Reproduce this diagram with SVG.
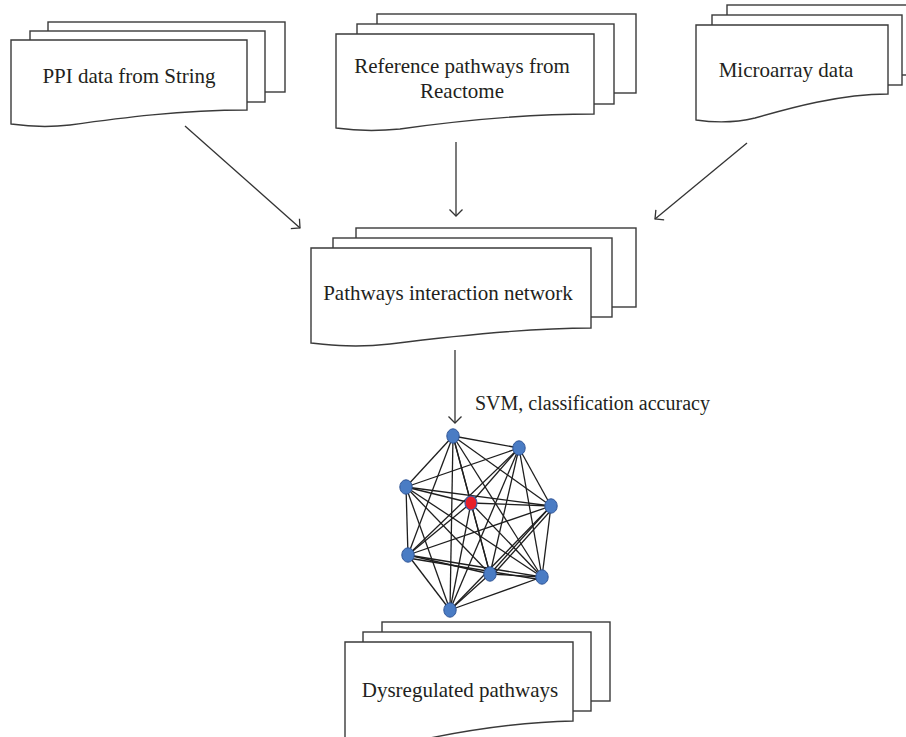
<svg xmlns="http://www.w3.org/2000/svg" width="906" height="737" viewBox="0 0 906 737">
<defs>
<style>
.sheet{fill:#fff;stroke:#3a3a3a;stroke-width:1.4}
.lbl{font-family:"Liberation Serif","DejaVu Serif",serif;font-size:21px;fill:#231f20;text-anchor:middle}
.conn{stroke:#333;stroke-width:1.3;fill:none}
.edge{stroke:#1e1e1e;stroke-width:1.3}
.nd{fill:#4a7cc4;stroke:#2f5597;stroke-width:1}
.red{fill:#e8202a;stroke:#3b5fa8;stroke-width:1.2}
</style>
<marker id="arr" markerUnits="userSpaceOnUse" markerWidth="12" markerHeight="16" refX="8" refY="8" orient="auto">
<path d="M1.5,1.5 L8,8 L1.5,14.5" fill="none" stroke="#333" stroke-width="1.3"/>
</marker>
</defs>

<g id="ppi">
<rect class="sheet" x="48" y="22" width="237" height="70"/>
<rect class="sheet" x="30" y="31" width="235" height="71"/>
<path class="sheet" d="M11,40 H247 V110 C180,110 120,118 70,125 C45,128 25,126 11,124 Z"/>
<text class="lbl" x="129" y="83">PPI data from String</text>
</g>

<g id="reactome">
<rect class="sheet" x="377" y="14" width="259" height="79"/>
<rect class="sheet" x="357" y="24" width="257" height="80"/>
<path class="sheet" d="M336,34 H594 V114 C520,114 450,122 400,129 C370,132 350,130 336,128 Z"/>
<text class="lbl" x="462" y="73">Reference pathways from</text>
<text class="lbl" x="462" y="98">Reactome</text>
</g>

<g id="microarray">
<rect class="sheet" x="727" y="5" width="200" height="70"/>
<rect class="sheet" x="712" y="15" width="190" height="70"/>
<path class="sheet" d="M696,25 H888 V94 C840,94 790,108 755,118 C730,124 710,122 696,120 Z"/>
<text class="lbl" x="786" y="77">Microarray data</text>
</g>

<g id="network">
<rect class="sheet" x="356" y="228" width="280" height="79"/>
<rect class="sheet" x="333" y="238" width="279" height="79"/>
<path class="sheet" d="M311,248 H591 V328 C520,328 445,337 390,344 C355,348 330,345 311,343 Z"/>
<text class="lbl" x="448" y="300">Pathways interaction network</text>
</g>

<g id="dysregulated">
<rect class="sheet" x="382" y="622" width="228" height="79"/>
<rect class="sheet" x="363" y="632" width="228" height="79"/>
<path class="sheet" d="M345,642 H573 V721 C520,722 470,730 430,738 C400,743 365,742 345,740 Z"/>
<text class="lbl" x="460" y="697">Dysregulated pathways</text>
</g>

<g id="connectors">
<line class="conn" x1="185" y1="126" x2="300" y2="228" marker-end="url(#arr)"/>
<line class="conn" x1="456" y1="142" x2="456" y2="216" marker-end="url(#arr)"/>
<line class="conn" x1="747" y1="143" x2="655" y2="219" marker-end="url(#arr)"/>
<line class="conn" x1="455" y1="350" x2="455" y2="423" marker-end="url(#arr)"/>
<text x="475" y="410" style="font-family:'Liberation Serif','DejaVu Serif',serif;font-size:20px;fill:#231f20">SVM, classification accuracy</text>
</g>

<g id="graph">
<g class="edge">
<line x1="453" y1="436" x2="519" y2="448"/>
<line x1="453" y1="436" x2="406" y2="487"/>
<line x1="453" y1="436" x2="471" y2="503"/>
<line x1="453" y1="436" x2="551" y2="506"/>
<line x1="453" y1="436" x2="408" y2="555"/>
<line x1="453" y1="436" x2="490" y2="574"/>
<line x1="453" y1="436" x2="542" y2="577"/>
<line x1="453" y1="436" x2="450" y2="610"/>
<line x1="519" y1="448" x2="406" y2="487"/>
<line x1="519" y1="448" x2="471" y2="503"/>
<line x1="519" y1="448" x2="551" y2="506"/>
<line x1="519" y1="448" x2="408" y2="555"/>
<line x1="519" y1="448" x2="490" y2="574"/>
<line x1="519" y1="448" x2="542" y2="577"/>
<line x1="519" y1="448" x2="450" y2="610"/>
<line x1="406" y1="487" x2="471" y2="503"/>
<line x1="406" y1="487" x2="551" y2="506"/>
<line x1="406" y1="487" x2="408" y2="555"/>
<line x1="406" y1="487" x2="490" y2="574"/>
<line x1="406" y1="487" x2="542" y2="577"/>
<line x1="406" y1="487" x2="450" y2="610"/>
<line x1="471" y1="503" x2="551" y2="506"/>
<line x1="471" y1="503" x2="408" y2="555"/>
<line x1="471" y1="503" x2="490" y2="574"/>
<line x1="471" y1="503" x2="542" y2="577"/>
<line x1="471" y1="503" x2="450" y2="610"/>
<line x1="551" y1="506" x2="408" y2="555"/>
<line x1="551" y1="506" x2="490" y2="574"/>
<line x1="553" y1="508" x2="492" y2="576"/>
<line x1="551" y1="506" x2="542" y2="577"/>
<line x1="551" y1="506" x2="450" y2="610"/>
<line x1="408" y1="555" x2="490" y2="574"/>
<line x1="408" y1="555" x2="542" y2="577"/>
<line x1="408" y1="558" x2="542" y2="580"/>
<line x1="408" y1="555" x2="450" y2="610"/>
<line x1="490" y1="574" x2="542" y2="577"/>
<line x1="490" y1="574" x2="450" y2="610"/>
<line x1="542" y1="577" x2="450" y2="610"/>
</g>
<g id="node1"><ellipse class="nd" cx="453" cy="436" rx="6.2" ry="7.2"/></g>
<g id="node2"><ellipse class="nd" cx="519" cy="448" rx="6.2" ry="7.2"/></g>
<g id="node3"><ellipse class="nd" cx="406" cy="487" rx="6.2" ry="7.2"/></g>
<g id="node4"><ellipse class="red" cx="471" cy="503" rx="6" ry="7"/></g>
<g id="node5"><ellipse class="nd" cx="551" cy="506" rx="6.2" ry="7.2"/></g>
<g id="node6"><ellipse class="nd" cx="408" cy="555" rx="6.2" ry="7.2"/></g>
<g id="node7"><ellipse class="nd" cx="490" cy="574" rx="6.2" ry="7.2"/></g>
<g id="node8"><ellipse class="nd" cx="542" cy="577" rx="6.2" ry="7.2"/></g>
<g id="node9"><ellipse class="nd" cx="450" cy="610" rx="6.2" ry="7.2"/></g>
</g>
</svg>
